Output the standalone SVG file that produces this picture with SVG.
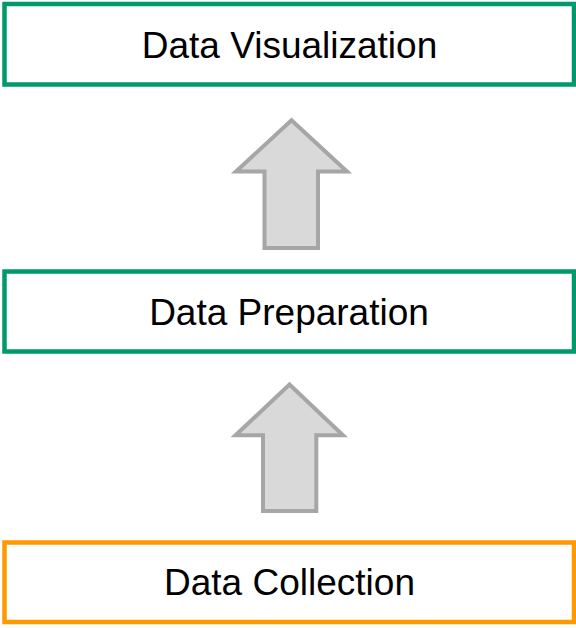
<svg xmlns="http://www.w3.org/2000/svg" width="576" height="628" viewBox="0 0 576 628">
  <style>
    .box { fill: #ffffff; stroke-width: 4.5; }
    .green { stroke: #00996b; }
    .orange { stroke: #ff9900; }
    .label { font-family: "Liberation Sans", Arial, sans-serif; font-size: 37px; fill: #000000; text-anchor: middle; }
    .arrow { fill: #d9d9d9; stroke: #a6a6a6; stroke-width: 4; stroke-linejoin: miter; }
  </style>
  <rect width="576" height="628" fill="#ffffff"/>

  <g id="data-visualization">
    <rect class="box green" x="4.5" y="4" width="569.5" height="80.5"/>
    <text class="label" x="289.5" y="58.3">Data Visualization</text>
  </g>

  <g id="data-preparation">
    <rect class="box green" x="4.5" y="271.5" width="569.5" height="80"/>
    <text class="label" x="289" y="325">Data Preparation</text>
  </g>

  <g id="data-collection">
    <rect class="box orange" x="4.5" y="542.5" width="569.5" height="79.5"/>
    <text class="label" x="289.5" y="595">Data Collection</text>
  </g>

  <g id="connectors">
    <polygon class="arrow" points="291.5,120.3 347,171.5 318,171.5 318,248 264.5,248 264.5,171.5 236,171.5"/>
    <polygon class="arrow" points="289.5,384.5 343,435.3 316.3,435.3 316.3,511 263,511 263,435.3 235.5,435.3"/>
  </g>
</svg>
